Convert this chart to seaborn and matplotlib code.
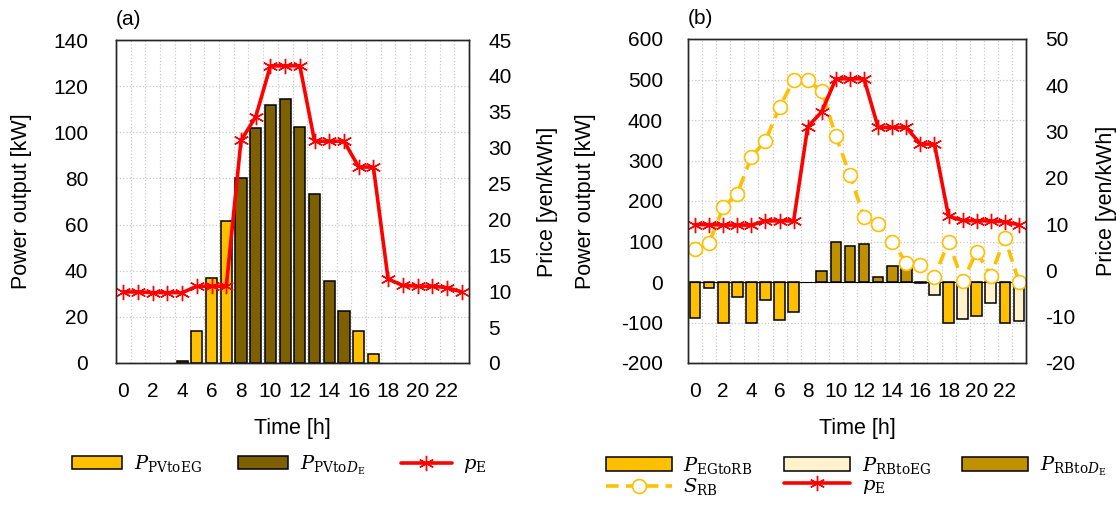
import numpy as np
import pandas as pd
import matplotlib
matplotlib.use("Agg")
import matplotlib.pyplot as plt
from matplotlib.patches import Patch
from matplotlib.lines import Line2D
from matplotlib.ticker import MultipleLocator
import seaborn as sns

# ---------------- data ----------------
hours = list(range(24))
# panel (a)
pv_to_eg = [np.nan, np.nan, np.nan, np.nan, np.nan, 14, 37, 61.5, np.nan, np.nan, np.nan, np.nan,
            np.nan, np.nan, np.nan, np.nan, 14, 4, np.nan, np.nan, np.nan, np.nan, np.nan, np.nan]
pv_to_de = [np.nan, np.nan, np.nan, np.nan, 1, np.nan, np.nan, np.nan, 80, 102, 112, 114.5,
            102.3, 73.3, 35.6, 22.4, np.nan, np.nan, np.nan, np.nan, np.nan, np.nan, np.nan, np.nan]
price = [9.9, 9.9, 9.8, 9.8, 9.8, 10.7, 10.7, 10.7, 31.0, 34.3, 41.4, 41.4,
         41.4, 30.9, 30.9, 30.9, 27.3, 27.3, 11.7, 10.8, 10.7, 10.7, 10.5, 9.9]
# panel (b)
eg_to_rb = [-90, -15, -100, -38, -100, -44, -94, -75, np.nan, np.nan, np.nan, np.nan,
            np.nan, np.nan, np.nan, np.nan, np.nan, np.nan, -100, np.nan, -83, np.nan, -100, np.nan]
rb_to_eg = [np.nan] * 16 + [-2, -33, np.nan, -92, np.nan, -52, np.nan, -97]
rb_to_de = [np.nan] * 9 + [27, 98, 88, 94, 13, 39.5, 39] + [np.nan] * 8
s_rb = [81, 96, 184, 218, 309, 349, 432, 498, 498, 471, 360, 264,
        160, 144, 100, 47, 43, 12, 100, 2, 75, 16, 108, 1]

xtick_labels = [str(h) for h in range(0, 24, 2)]

# ---------------- style ----------------
sns.set_style("white")
plt.rcParams["font.family"] = ["Liberation Sans", "DejaVu Sans"]
plt.rcParams["mathtext.fontset"] = "dejavuserif"
plt.rcParams["axes.unicode_minus"] = False
for k in ("text.color", "axes.labelcolor", "xtick.color", "ytick.color", "xtick.labelcolor", "ytick.labelcolor"):
    plt.rcParams[k] = "black"
FS = 15
LABFS = 15.5

C_YEL = "#FFC000"
C_DARK = "#7F6000"
C_GOLD = "#BF9000"
C_LIGHT = "#FFF2CC"
C_RED = "#FF0000"
GRID = "#C8C8C8"

fig = plt.figure(figsize=(11.16, 5.05), dpi=100)
axA = fig.add_axes([116 / 1116, 1 - 363 / 505, 353 / 1116, 323 / 505])
axB = fig.add_axes([688 / 1116, 1 - 363 / 505, 338 / 1116, 324 / 505])

STAR = (6, 2, 0)


def bars(ax, vals, color):
    df = pd.DataFrame({"h": hours, "v": vals}).dropna()
    sns.barplot(data=df, x="h", y="v", color=color, edgecolor="black", linewidth=1.1,
                width=0.76, errorbar=None, native_scale=True, ax=ax, saturation=1)


def style_axes(ax, axr, ylim, ystep, rlim, rstep, lpad, rpad, lab_l, lab_r, tag):
    ax.set_xlim(-0.5, 23.5)
    ax.set_ylim(*ylim)
    ax.yaxis.set_major_locator(MultipleLocator(ystep))
    ax.set_xticks(range(0, 24, 2))
    ax.set_xticklabels(xtick_labels, fontsize=FS)
    ax.set_xticks(np.arange(-0.5, 24, 1), minor=True)
    ax.grid(False)
    ax.grid(which="minor", axis="x", color=GRID, linestyle=":", linewidth=0.9)
    ax.grid(which="major", axis="y", color=GRID, linestyle=":", linewidth=0.9)
    ax.set_axisbelow(True)
    ax.tick_params(axis="both", which="both", length=0, colors="black")
    ax.tick_params(axis="y", labelsize=FS, pad=lpad)
    ax.tick_params(axis="x", labelsize=FS, pad=14)
    axr.set_ylim(*rlim)
    axr.yaxis.set_major_locator(MultipleLocator(rstep))
    axr.tick_params(axis="y", length=0, labelsize=FS, pad=rpad, colors="black")
    axr.grid(False)
    for a in (ax, axr):
        for s in a.spines.values():
            s.set_color("#262626")
            s.set_linewidth(1.0)
    ax.set_xlabel("Time [h]", fontsize=LABFS, color="black")
    ax.set_ylabel("Power output [kW]", fontsize=LABFS, color="black")
    axr.set_ylabel("Price [yen/kWh]", fontsize=LABFS, rotation=90, color="black")
    ax.xaxis.set_label_coords(0.5, -0.17)
    ax.yaxis.set_label_coords(lab_l, 0.5)
    axr.yaxis.set_label_coords(lab_r, 0.5)
    ax.text(0.0, 1.062, tag, transform=ax.transAxes, fontsize=FS, ha="left", va="center",
            color="black")


# ---------- panel (a) ----------
bars(axA, pv_to_eg, C_YEL)
bars(axA, pv_to_de, C_DARK)
axA_r = axA.twinx()
sns.lineplot(x=hours, y=price, ax=axA_r, color=C_RED, linewidth=2.6, marker=STAR,
             markersize=11, markeredgewidth=1.0, markeredgecolor=C_RED)
style_axes(axA, axA_r, (0, 140), 20, (0, 45), 5, 20, 14, -0.238, 1.193, "(a)")

# ---------- panel (b) ----------
bars(axB, eg_to_rb, C_YEL)
bars(axB, rb_to_eg, C_LIGHT)
bars(axB, rb_to_de, C_GOLD)
axB.axhline(0, color="black", linewidth=0.8, zorder=1.5)
sns.lineplot(x=hours, y=s_rb, ax=axB, color=C_YEL, linewidth=2.6, linestyle=(0, (3.5, 2)),
             marker="o", markersize=10, markerfacecolor="white", markeredgecolor=C_YEL,
             markeredgewidth=1.2)
axB_r = axB.twinx()
sns.lineplot(x=hours, y=price, ax=axB_r, color=C_RED, linewidth=2.6, marker=STAR,
             markersize=11, markeredgewidth=1.0, markeredgecolor=C_RED)
style_axes(axB, axB_r, (-200, 600), 100, (-20, 50), 10, 18, 14, -0.272, 1.207, "(b)")

# ---------- legends ----------
LFS = 14
def patch(c):
    return Patch(facecolor=c, edgecolor="black", linewidth=1.1)

red_h = Line2D([], [], color=C_RED, linewidth=2.6, marker=STAR, markersize=11,
               markeredgewidth=1.0, markeredgecolor=C_RED)
srb_h = Line2D([], [], color=C_YEL, linewidth=2.6, linestyle=(0, (3.5, 2)), marker="o",
               markersize=10, markerfacecolor="white", markeredgecolor=C_YEL, markeredgewidth=1.2)

fig.legend([patch(C_YEL), patch(C_DARK), red_h],
           [r"$P_{\mathrm{PVtoEG}}$", r"$P_{\mathrm{PVto}D_{\mathrm{E}}}$", r"$p_{\mathrm{E}}$"],
           loc="center left", bbox_to_anchor=(54 / 1116, 1 - 465 / 505), ncol=3,
           frameon=False, fontsize=LFS, handlelength=2.6, handleheight=0.7,
           columnspacing=1.85, handletextpad=0.6, labelcolor="black")

fig.legend([patch(C_YEL), srb_h, patch(C_LIGHT), red_h, patch(C_GOLD)],
           [r"$P_{\mathrm{EGtoRB}}$", r"$S_{\mathrm{RB}}$", r"$P_{\mathrm{RBtoEG}}$",
            r"$p_{\mathrm{E}}$", r"$P_{\mathrm{RBto}D_{\mathrm{E}}}$"],
           loc="center left", bbox_to_anchor=(588 / 1116, 1 - 476 / 505), ncol=3,
           frameon=False, fontsize=LFS, handlelength=3.4, handleheight=0.7,
           columnspacing=1.6, handletextpad=0.6, labelspacing=0.05, labelcolor="black")

fig.savefig("out.png", dpi=100)
